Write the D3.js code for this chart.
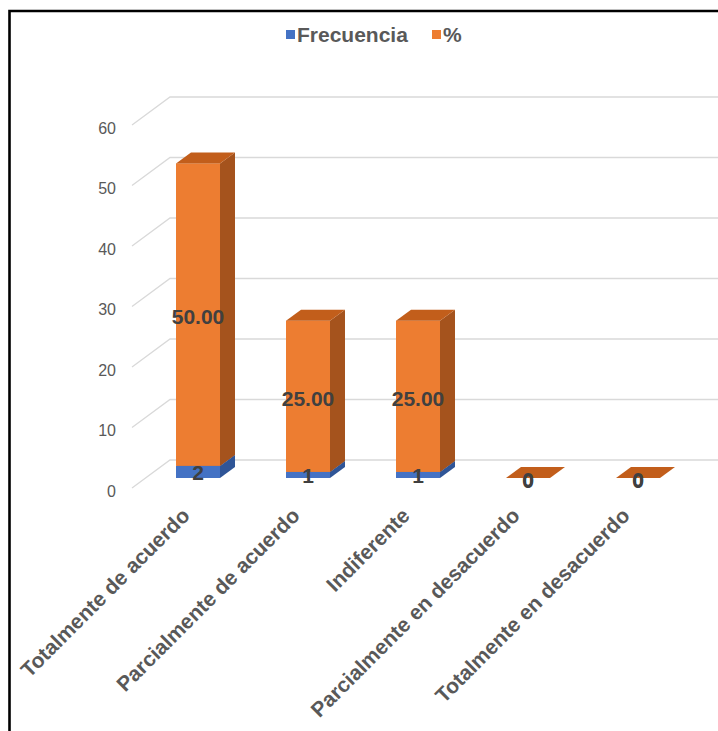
<!DOCTYPE html>
<html>
<head>
<meta charset="utf-8">
<script src="https://cdn.jsdelivr.net/npm/d3@7/dist/d3.min.js"></script>
<style>
  html, body { margin: 0; padding: 0; background: #fff; }
  svg { display: block; }
</style>
</head>
<body>
<svg id="chart" width="718" height="731"></svg>
<script>
const categories = ["Totalmente de acuerdo", "Parcialmente de acuerdo", "Indiferente", "Parcialmente en desacuerdo", "Totalmente en desacuerdo"];
const frecuencia = [2, 1, 1, 0, 0];
const porcentaje = [50, 25, 25, 0, 0];
const frecuenciaLabels = ["2", "1", "1", "0", "0"];
const porcentajeLabels = ["50.00", "25.00", "25.00", "0", "0"];
const yTicks = [0, 10, 20, 30, 40, 50, 60];
const seriesNames = ["Frecuencia", "%"];

const colors = {
  blue: { front: "#4472C4", side: "#2F5597", top: "#3B64B0" },
  orange: { front: "#ED7D31", side: "#A5531D", top: "#C25E1B" }
};

const svg = d3.select("#chart");
const W = 718, H = 731;

// bar front plane scale
const y = d3.scaleLinear().domain([0, 60]).range([478, 115]);
const x = d3.scaleBand().domain(categories).range([143, 693]).paddingInner(0.6).paddingOuter(0.3);
const dX = 15, dY = -11;         // bar depth offset
const backOff = -18, frontOff = 10; // wall / floor front offsets vs bar plane
const wallX0 = 132, wallX1 = 170;

// gridlines (3D wall)
const grid = svg.append("g");
yTicks.forEach(t => {
  const yb = y(t) + backOff, yf = y(t) + frontOff;
  grid.append("path")
    .attr("d", `M${wallX0},${yf} L${wallX1},${yb} L${W},${yb}`)
    .attr("fill", "none").attr("stroke", "#d9d9d9").attr("stroke-width", 1.3);
});

// y tick labels
svg.append("g").selectAll("text").data(yTicks).join("text")
  .attr("x", 116).attr("y", d => y(d) + frontOff + 3)
  .attr("text-anchor", "end").attr("dominant-baseline", "central")
  .attr("font-family", "Liberation Sans, Arial, sans-serif").attr("font-size", 16)
  .attr("fill", "#595959").text(d => d);

// bars
function drawBlock(g, x0, w, y0, y1, c, drawFrontSide) {
  const x1 = x0 + w;
  if (drawFrontSide && y0 !== y1) {
    g.append("rect").attr("x", x0).attr("y", y1).attr("width", w).attr("height", y0 - y1).attr("fill", c.front);
    g.append("path").attr("d", `M${x1},${y1} L${x1 + dX},${y1 + dY} L${x1 + dX},${y0 + dY} L${x1},${y0} Z`).attr("fill", c.side);
  }
  g.append("path").attr("d", `M${x0},${y1} L${x0 + dX},${y1 + dY} L${x1 + dX},${y1 + dY} L${x1},${y1} Z`).attr("fill", c.top);
}

const bars = svg.append("g");
categories.forEach((cat, i) => {
  const x0 = x(cat), w = x.bandwidth();
  const f = frecuencia[i], p = porcentaje[i];
  const g = bars.append("g");
  if (f > 0) drawBlock(g, x0, w, y(0), y(f), colors.blue, true);
  drawBlock(g, x0, w, y(f), y(f + p), colors.orange, true);
});

// data labels
const labels = svg.append("g")
  .attr("font-family", "Liberation Sans, Arial, sans-serif").attr("font-weight", "bold")
  .attr("font-size", 21).attr("fill", "#404040").attr("text-anchor", "middle")
  .attr("dominant-baseline", "central");
categories.forEach((cat, i) => {
  const cx = x(cat) + x.bandwidth() / 2;
  const f = frecuencia[i], p = porcentaje[i];
  labels.append("text").attr("x", cx).attr("y", (y(0) + y(f)) / 2 + 1).text(frecuenciaLabels[i]);
  labels.append("text").attr("x", cx).attr("y", (y(f) + y(f + p)) / 2 + 2).text(porcentajeLabels[i]);
});

// category labels
svg.append("g").selectAll("text").data(categories).join("text")
  .attr("transform", d => `translate(${x(d) + x.bandwidth() / 2 - 7},517) rotate(-45)`)
  .attr("text-anchor", "end")
  .attr("font-family", "Liberation Sans, Arial, sans-serif").attr("font-weight", "bold")
  .attr("font-size", 21).attr("fill", "#595959").text(d => d);

// legend
const legend = svg.append("g").attr("font-family", "Liberation Sans, Arial, sans-serif")
  .attr("font-weight", "bold").attr("font-size", 21).attr("fill", "#595959");
const legendItems = [
  { name: seriesNames[0], color: colors.blue.front, x: 286 },
  { name: seriesNames[1], color: colors.orange.front, x: 432 }
];
legendItems.forEach(it => {
  legend.append("rect").attr("x", it.x).attr("y", 30).attr("width", 9).attr("height", 9).attr("fill", it.color);
  legend.append("text").attr("x", it.x + 11).attr("y", 42).text(it.name);
});

// frame
svg.append("path").attr("d", `M9.5,${H} V11 H${W}`).attr("fill", "none")
  .attr("stroke", "#000").attr("stroke-width", 2.6);
</script>
</body>
</html>
